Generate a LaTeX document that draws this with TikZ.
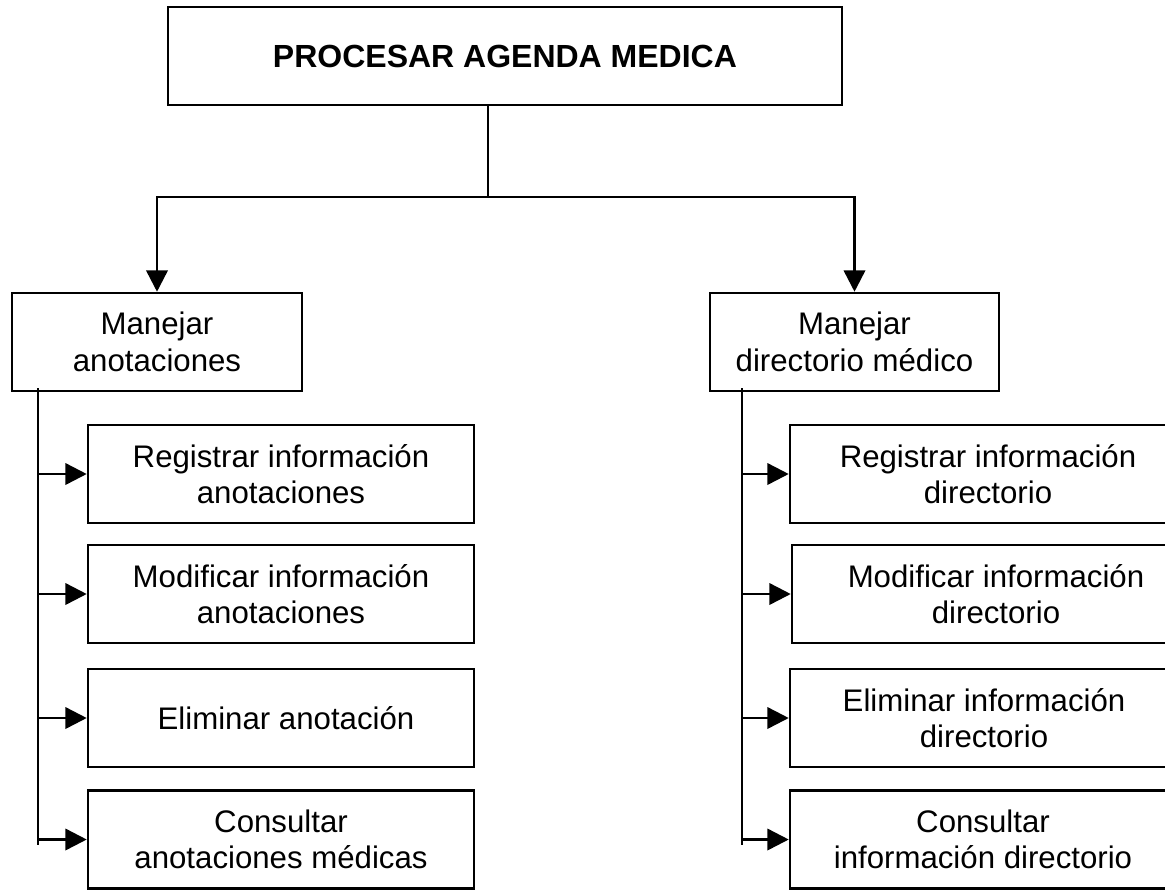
\documentclass[tikz,border=0pt]{standalone}
\usepackage{fontspec}
\setmainfont{Liberation Sans}
\usetikzlibrary{arrows.meta}

\begin{document}
\begin{tikzpicture}[x=0.75pt,y=-0.75pt,
  line width=1.9pt,
  box/.style={draw, line width=1.9pt, inner sep=2pt, align=center,
    minimum height=73.5pt,
    font=\fontsize{23.4pt}{27.5pt}\selectfont},
  subbox/.style={box, minimum width=289.5pt},
  arr/.style={-{Triangle[length=16pt,width=16pt]}, line width=1.9pt}]
\useasboundingbox (0,0) rectangle (1165,890);

% root
\node[box, minimum width=505.5pt, font=\fontsize{24pt}{28pt}\selectfont\bfseries]
  (root) at (505,56) {PROCESAR AGENDA MEDICA};

% second level
\node[box, minimum width=217.5pt] (anot) at (157,342) {Manejar\\anotaciones};
\node[box, minimum width=216.75pt] (dir) at (854.5,342) {Manejar\\directorio médico};

% left column
\node[subbox] (a1) at (281,474) {Registrar información\\anotaciones};
\node[subbox] (a2) at (281,594) {Modificar información\\anotaciones};
\node[subbox] (a3) at (281,718) {\hspace*{7.5pt}Eliminar anotación};
\node[subbox] (a4) at (281,839.5) {Consultar\\anotaciones médicas};

% right column
\node[box, minimum width=297pt] (d1) at (988,474) {Registrar información\\directorio};
\node[box, minimum width=306pt] (d2) at (996,594) {Modificar información\\directorio};
\node[box, minimum width=291pt] (d3) at (984,718) {Eliminar información\\directorio};
\node[box, minimum width=289.5pt] (d4) at (983,839.5) {Consultar\\información directorio};

% split from the root
\coordinate (j) at (488,197);
\draw (j |- root.south) -- (j);
\draw[arr] (j) -| (anot.north);
\draw[arr] (j) -| (dir.north);

% left trunk
\coordinate (lt) at (38,388);
\coordinate (lb) at (38,845);
\draw (lt) -- (lb);
\foreach \b in {a1,a2,a3,a4}
  \draw[arr] (lt |- \b.west) -- (\b.west);

% right trunk
\coordinate (rt) at (742,388);
\coordinate (rb) at (742,845);
\draw (rt) -- (rb);
\foreach \b in {d1,d2,d3,d4}
  \draw[arr] (rt |- \b.west) -- (\b.west);
\end{tikzpicture}
\end{document}
